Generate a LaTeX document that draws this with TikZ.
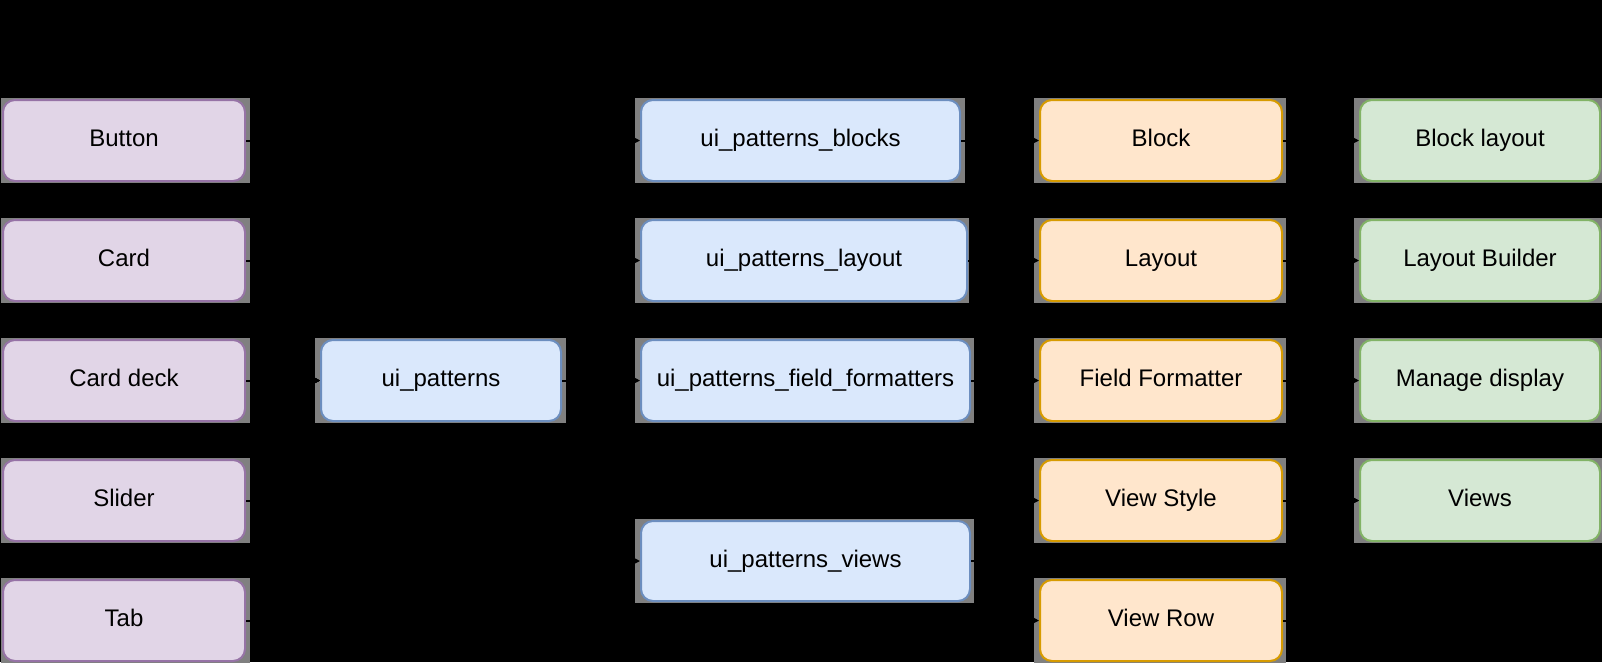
\documentclass[tikz,border=0pt]{standalone}
\usepackage{fontspec}
\setmainfont{Liberation Sans}
\usetikzlibrary{arrows.meta}
\definecolor{pfill}{HTML}{E1D5E7}\definecolor{pline}{HTML}{9673A6}
\definecolor{bfill}{HTML}{DAE8FC}\definecolor{bline}{HTML}{6C8EBF}
\definecolor{ofill}{HTML}{FFE6CC}\definecolor{oline}{HTML}{D79B00}
\definecolor{gfill}{HTML}{D5E8D4}\definecolor{gline}{HTML}{82B366}
\definecolor{halo}{RGB}{128,128,128}
\tikzset{
  box/.style={rounded corners=9pt, line width=1.5pt, inner sep=0pt, text=black,
    text height=13pt, text depth=4pt,
    font=\fontsize{18pt}{21pt}\selectfont},
  purplebox/.style={box, fill=pfill, draw=pline},
  bluebox/.style={box, fill=bfill, draw=bline},
  orangebox/.style={box, fill=ofill, draw=oline},
  greenbox/.style={box, fill=gfill, draw=gline},
  conn/.style={draw=black, line width=1.5pt, -{Triangle[length=9pt,width=9pt]}},
}
% #1 name, #2 style, #3 x1, #4 y1, #5 x2, #6 y2, #7 left halo, #8 right halo, #9 text
\newcommand\mybox[9]{%
  \fill[halo] ({#3-#7},{#4-2}) rectangle ({#5+#8},{#6+2});
  \node[#2, minimum width={(#5-#3)*0.75pt}, minimum height={(#6-#4)*0.75pt}]
    (#1) at ({(#3+#5)/2},{(#4+#6)/2}) {#9};
}
\begin{document}
\begin{tikzpicture}[x=0.75pt, y=-0.75pt]
\useasboundingbox (0,0) rectangle (1602,662);
\fill[black] (0,0) rectangle (1602,662);

% purple column
\mybox{btn}{purplebox}{3}{100}{245}{181}{2}{5}{Button}
\mybox{card}{purplebox}{3}{220}{245}{301}{2}{5}{Card}
\mybox{deck}{purplebox}{3}{340}{245}{421}{2}{5}{Card deck}
\mybox{slider}{purplebox}{3}{460}{245}{541}{2}{5}{Slider}
\mybox{tab}{purplebox}{3}{580}{245}{661}{2}{5}{Tab}

% core
\mybox{uip}{bluebox}{321}{340}{561}{421}{6}{5}{ui\_patterns}

% modules
\mybox{blocks}{bluebox}{641}{100}{960}{181}{6}{5}{ui\_patterns\_blocks}
\mybox{layoutm}{bluebox}{641}{220}{967}{301}{6}{2}{ui\_patterns\_layout}
\mybox{ffm}{bluebox}{641}{340}{970}{421}{6}{4}{ui\_patterns\_field\_formatters}
\mybox{views}{bluebox}{641}{521}{970}{601}{6}{4}{ui\_patterns\_views}

% plugins
\mybox{block}{orangebox}{1040}{100}{1282}{181}{6}{4}{Block}
\mybox{layout}{orangebox}{1040}{220}{1282}{301}{6}{4}{Layout}
\mybox{ff}{orangebox}{1040}{340}{1282}{421}{6}{4}{Field Formatter}
\mybox{vstyle}{orangebox}{1040}{460}{1282}{541}{6}{4}{View Style}
\mybox{vrow}{orangebox}{1040}{580}{1282}{661}{6}{4}{View Row}

% drupal UI
\mybox{blayout}{greenbox}{1360}{100}{1600}{181}{6}{2}{Block layout}
\mybox{lbuilder}{greenbox}{1360}{220}{1600}{301}{6}{2}{Layout Builder}
\mybox{mdisplay}{greenbox}{1360}{340}{1600}{421}{6}{2}{Manage display}
\mybox{viewsui}{greenbox}{1360}{460}{1600}{541}{6}{2}{Views}

\coordinate (c1) at (283,0);
\coordinate (c2) at (601,0);
\coordinate (c3) at (1000,0);
\coordinate (c4) at (1321,0);

\foreach \n in {btn,card,deck,slider,tab}
  \draw[conn] (\n.east) -- (\n.east -| c1) |- (uip.west);
\foreach \n in {blocks,layoutm,ffm,views}
  \draw[conn] (uip.east) -- (uip.east -| c2) |- (\n.west);
\draw[conn] (blocks.east) -- (blocks.east -| c3) |- (block.west);
\draw[conn] (layoutm.east) -- (layoutm.east -| c3) |- (layout.west);
\draw[conn] (ffm.east) -- (ffm.east -| c3) |- (ff.west);
\draw[conn] (views.east) -- (views.east -| c3) |- (vstyle.west);
\draw[conn] (views.east) -- (views.east -| c3) |- (vrow.west);
\draw[conn] (block.east) -- (block.east -| c4) |- (blayout.west);
\draw[conn] (layout.east) -- (layout.east -| c4) |- (lbuilder.west);
\draw[conn] (ff.east) -- (ff.east -| c4) |- (mdisplay.west);
\draw[conn] (vstyle.east) -- (vstyle.east -| c4) |- (viewsui.west);
\draw[conn] (vrow.east) -- (vrow.east -| c4) |- (viewsui.west);
\end{tikzpicture}
\end{document}
